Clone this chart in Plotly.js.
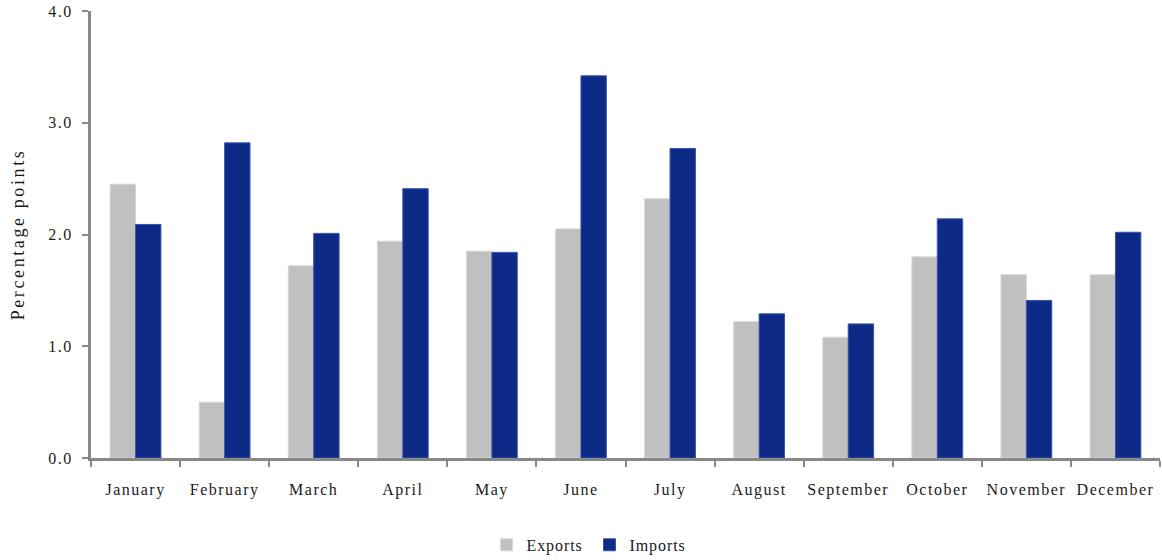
<!DOCTYPE html>
<html>
<head>
<meta charset="utf-8">
<script src="https://cdn.plot.ly/plotly-3.0.1.min.js"></script>
<style>
body{margin:0;background:#fff}
#chart{width:1162px;height:560px}
svg text{letter-spacing:1.5px}
svg text.ytitle{letter-spacing:2.6px}
svg text.legendtext{letter-spacing:0.9px}
</style>
</head>
<body>
<div id="chart"></div>
<script>
const months = ["January","February","March","April","May","June","July","August","September","October","November","December"];
const exportsVals = [2.45, 0.50, 1.72, 1.94, 1.85, 2.05, 2.32, 1.22, 1.08, 1.80, 1.64, 1.64];
const importsVals = [2.09, 2.82, 2.01, 2.41, 1.84, 3.42, 2.77, 1.29, 1.20, 2.14, 1.41, 2.02];
const yTicks = [0, 1, 2, 3, 4];
const yTickLabels = ["0.0", "1.0", "2.0", "3.0", "4.0"];

const fontFam = "Liberation Serif, DejaVu Serif, serif";
const traces = [
  {type: "bar", name: "Exports", x: months, y: exportsVals,
   marker: {color: "#c0c0c0", line: {color: "#d6d6d6", width: 1}}},
  {type: "bar", name: "Imports", x: months, y: importsVals,
   marker: {color: "#0d2a87", line: {color: "#3a55a8", width: 1}}}
];
const layout = {
  width: 1162, height: 560,
  margin: {l: 91, r: 2, t: 11, b: 102, autoexpand: false},
  paper_bgcolor: "#fff", plot_bgcolor: "#fff",
  font: {family: fontFam, size: 16, color: "#1a1a1a"},
  barmode: "group", bargap: 0.43, bargroupgap: 0,
  showlegend: true,
  legend: {orientation: "h", x: 0.37, xanchor: "left", yref: "container", y: 0.027, yanchor: "middle",
           font: {family: fontFam, size: 16, color: "#1a1a1a"}, itemwidth: 30,
           entrywidth: 58, entrywidthmode: "pixels", traceorder: "normal"},
  xaxis: {
    showline: true, linecolor: "#888", linewidth: 3, tickangle: 0,
    ticks: "outside", tickson: "boundaries", ticklen: 6, tickwidth: 2, tickcolor: "#888",
    ticklabelstandoff: 15, showgrid: false, zeroline: false, fixedrange: true,
    tickfont: {family: fontFam, size: 16, color: "#1a1a1a"}
  },
  yaxis: {
    range: [0, 4], tickvals: yTicks, ticktext: yTickLabels,
    showline: true, linecolor: "#888", linewidth: 3,
    ticks: "outside", ticklen: 6, tickwidth: 2, tickcolor: "#888",
    ticklabelstandoff: 6, showgrid: false, zeroline: false,
    tickfont: {family: fontFam, size: 16, color: "#1a1a1a"},
    title: {text: "Percentage points", font: {family: fontFam, size: 18, color: "#1a1a1a"}, standoff: 19}
  }
};
Plotly.newPlot("chart", traces, layout, {displayModeBar: false, staticPlot: true});
</script>
</body>
</html>
